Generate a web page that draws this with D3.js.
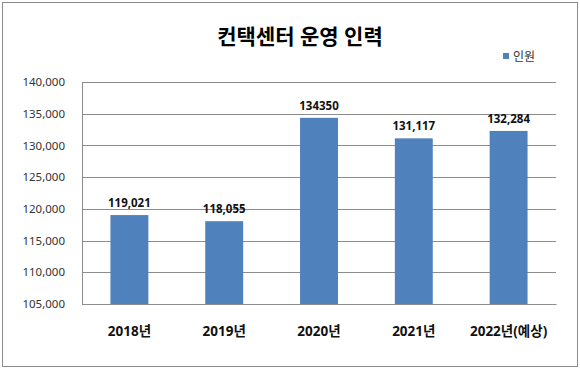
<!DOCTYPE html>
<html>
<head>
<meta charset="utf-8">
<script src="https://cdn.jsdelivr.net/npm/d3@7"></script>
<style>
  body { margin: 0; background: #fff; }
  text { font-family: "Noto Sans", "Noto Sans CJK KR", sans-serif; }
</style>
</head>
<body>
<script>
// chart data
var years = ["2018년", "2019년", "2020년", "2021년", "2022년(예상)"];
var staff = [119021, 118055, 134350, 131117, 132284];
var valueLabels = ["119,021", "118,055", "134350", "131,117", "132,284"];
var yTicks = [105000, 110000, 115000, 120000, 125000, 130000, 135000, 140000];

var svgWidth = 580, svgHeight = 369;
var margin = {top: 82, right: 24, bottom: 65, left: 82};
var width = svgWidth - margin.left - margin.right;
var height = svgHeight - margin.top - margin.bottom;

var svg = d3.select("body").append("svg")
  .attr("width", svgWidth)
  .attr("height", svgHeight);

// outer frame
svg.append("rect")
  .attr("x", 2.5).attr("y", 2.5)
  .attr("width", 575).attr("height", 364)
  .attr("fill", "#fff")
  .attr("stroke", "#8c8c8c");

var chart = svg.append("g")
  .attr("transform", "translate(" + margin.left + "," + margin.top + ")");

var x = d3.scaleBand().domain(years).range([0, width])
  .paddingInner(0.6).paddingOuter(0.3);
var y = d3.scaleLinear().domain([105000, 140000]).range([height, 0]);

// gridlines
chart.selectAll(".grid")
  .data(yTicks)
  .enter().append("line")
  .attr("x1", 0).attr("x2", width)
  .attr("y1", function(d) { return Math.round(y(d)) + 0.5; })
  .attr("y2", function(d) { return Math.round(y(d)) + 0.5; })
  .attr("stroke", "#8c8c8c");

// left axis
var leftAxis = d3.axisLeft(y).tickValues(yTicks).tickSize(0).tickPadding(17)
  .tickFormat(d3.format(","));
var ya = chart.append("g").call(leftAxis);
ya.select(".domain").attr("stroke", "#8c8c8c");
ya.selectAll("text").attr("font-size", "11.5px").attr("fill", "#333");

// bars
chart.selectAll(".bar")
  .data(staff)
  .enter().append("rect")
  .attr("x", function(d, i) { return x(years[i]); })
  .attr("y", function(d) { return y(d); })
  .attr("width", x.bandwidth())
  .attr("height", function(d) { return height - y(d); })
  .attr("fill", "#4f81bd");

// value labels
chart.selectAll(".val")
  .data(staff)
  .enter().append("text")
  .attr("x", function(d, i) { return x(years[i]) + x.bandwidth() / 2; })
  .attr("y", function(d) { return y(d) - 8; })
  .attr("text-anchor", "middle")
  .attr("font-size", "11.5px")
  .attr("font-weight", "bold")
  .attr("fill", "#111")
  .text(function(d, i) { return valueLabels[i]; });

// bottom axis
var bottomAxis = d3.axisBottom(x).tickSize(0).tickPadding(22);
var xa = chart.append("g")
  .attr("transform", "translate(0," + height + ")")
  .call(bottomAxis);
xa.select(".domain").attr("stroke", "#8c8c8c");
xa.selectAll("text").attr("font-size", "13.5px").attr("font-weight", "bold").attr("fill", "#111");

// title
svg.append("text")
  .attr("x", 300).attr("y", 44)
  .attr("text-anchor", "middle")
  .attr("font-size", "21px")
  .attr("font-weight", "bold")
  .attr("fill", "#000")
  .text("컨택센터 운영 인력");

// legend
svg.append("rect")
  .attr("x", 503).attr("y", 53)
  .attr("width", 6).attr("height", 6)
  .attr("fill", "#4f81bd");
svg.append("text")
  .attr("x", 513).attr("y", 61)
  .attr("font-size", "12px")
  .attr("fill", "#333")
  .text("인원");
</script>
</body>
</html>
